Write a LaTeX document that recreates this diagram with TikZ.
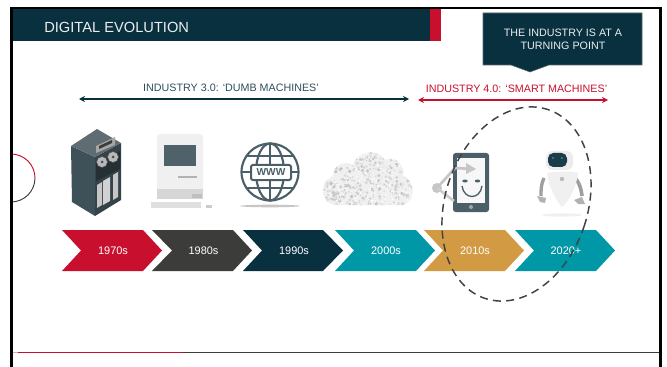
\documentclass[tikz,border=0pt]{standalone}
\usepackage{fontspec}
\setmainfont{Liberation Sans}
\usetikzlibrary{shapes.geometric,arrows.meta}
\definecolor{navy}{HTML}{08303F}
\definecolor{crim}{HTML}{C8102E}
\definecolor{coal}{HTML}{3C3C3A}
\definecolor{teal}{HTML}{0097A7}
\definecolor{gold}{HTML}{D29A42}
\definecolor{slate}{HTML}{4A5F68}
\tikzset{
  chev/.style={draw=none,fill=#1},
  lab/.style={text=white,font=\fontsize{8.2}{10}\selectfont,inner sep=0pt},
  span/.style={font=\fontsize{8.05}{10}\selectfont,inner sep=0pt},
  spanline/.style={line width=0.8pt,{Stealth[length=4.5pt,width=4.5pt]}-{Stealth[length=4.5pt,width=4.5pt]}}
}
\newcommand{\chevron}[7]{% name, left, notch, topright, tip, colour, label
  \fill[chev=#6] (#2,230) -- (#4,230) -- (#5,250.5) -- (#4,271) -- (#2,271) -- (#3,250.5) -- cycle;
  \node[lab] (#1) at ({(#3+#5)/2-8.5},250.5) {#7};
}
\begin{document}
\begin{tikzpicture}[x=0.75pt,y=-0.75pt]
\useasboundingbox (0,0) rectangle (667,367);
\fill[white] (0,0) rectangle (667,367);
% side circle
\draw[crim,line width=0.7pt] (11,154) arc (-90:0:24);
\draw[coal,line width=0.7pt] (35,178) arc (0:90:24);
% header
\fill[navy] (12,9) rectangle (430,41);
\fill[crim] (430,9) rectangle (441,41);
\node[text=white!92!navy,font=\fontsize{11}{13}\selectfont,anchor=west,inner sep=0pt] (title) at (44,27) {DIGITAL EVOLUTION};
% callout
\draw[fill=navy,draw=gray!70!navy,line width=0.4pt] (483,13) -- (642,13) -- (642,65) -- (549,65) -- (530,72) -- (511,65) -- (483,65) -- cycle;
\node[text=white!92!navy,font=\fontsize{8.05}{9.8}\selectfont,align=center,inner sep=0pt] (call) at (563,39) {THE INDUSTRY IS AT A\\TURNING POINT};
% spans
\coordinate (a1) at (79,99); \coordinate (a2) at (409,99);
\coordinate (b1) at (418,100); \coordinate (b2) at (608,100);
\draw[spanline,navy] (a1) -- (a2);
\draw[spanline,crim] (b1) -- (b2);
\node[span,text=navy!85!white] (t3) at (231,88) {INDUSTRY 3.0: ‘DUMB MACHINES’};
\node[span,text=crim] (t4) at (516.5,89) {INDUSTRY 4.0: ‘SMART MACHINES’};
% server
\fill[slate!85!black] (71,146) -- (95,157) -- (95,216) -- (72,202) -- cycle;
\fill[slate!70!black] (95,157) -- (121,143) -- (121,200) -- (95,216) -- cycle;
\fill[slate!60!gray] (71,146) -- (97,129) -- (121,143) -- (95,157) -- cycle;
\fill[gray!70] (96,146) -- (115,137) -- (115,145) -- (96,153) -- cycle;
\fill[coal] (99,146) -- (112,140) -- (112,143) -- (99,149) -- cycle;
\fill[slate!50!black] (96,164) -- (120,151) -- (120,169) -- (96,181) -- cycle;
\fill[gray!55,draw=black!70,line width=0.4pt] (102,162) circle (5.5);
\fill[gray!55,draw=black!70,line width=0.4pt] (113,157) circle (5.5);
\fill[black!70] (102,162) circle (1.5) (113,157) circle (1.5);
\fill[gray!45] (97,185) -- (102,182) -- (102,205) -- (97,208) -- cycle;
\fill[gray!35] (103,181) -- (110,177) -- (110,201) -- (103,205) -- cycle;
\fill[gray!45] (113,175) -- (118,172) -- (118,197) -- (113,200) -- cycle;
% mac
\fill[gray!12,rounded corners=2.5pt] (157,134) rectangle (203,199);
\fill[gray!32] (157,189) rectangle (203,199);
\fill[gray!50] (192,194) rectangle (202,198);
\fill[slate!90!gray] (164,145) rectangle (196,166);
\fill[gray!60] (178,176) rectangle (197,178);
\fill[gray!25] (151,202) rectangle (201,208);
\fill[gray!40] (206,205) rectangle (212,208);
% globe
\fill[gray!45] (270,206) ellipse (30 and 1.3);
\begin{scope}[slate,line width=1.6pt]
\draw (270,172) circle (28.5);
\draw (270,172) ellipse (14 and 28.5);
\draw (270,143.5) -- (270,200.5);
\draw (247,156) -- (293,156);
\draw (247,188) -- (293,188);
\draw (241.5,172) -- (298.5,172);
\end{scope}
\draw[slate,fill=white,line width=1.5pt,rounded corners=1.5pt] (251,165) rectangle (291,180);
\node[text=slate,font=\bfseries\fontsize{7.6}{9}\selectfont,inner sep=0pt] (www) at (271,172.5) {WWW};
% cloud
\begin{scope}
\clip (336,205) .. controls (322,205) and (316,184) .. (333,176) .. controls (332,165) and (346,160) .. (353,165) .. controls (358,150) and (378,148) .. (385,160) .. controls (395,155) and (405,165) .. (403,176) .. controls (415,180) and (417,200) .. (403,205) -- cycle;
\fill[gray!12] (320,148) rectangle (416,207);
\pgfmathsetseed{7}
\foreach \i in {1,...,420}{
  \pgfmathsetmacro{\px}{322+92*rnd}
  \pgfmathsetmacro{\py}{150+56*rnd}
  \pgfmathsetmacro{\pr}{0.6+1.3*rnd}
  \pgfmathtruncatemacro{\ps}{18+32*rnd}
  \fill[gray!\ps] (\px,\py) circle (\pr);
}
\foreach \i in {1,...,160}{
  \pgfmathsetmacro{\px}{322+92*rnd}
  \pgfmathsetmacro{\py}{150+56*rnd}
  \fill[white] (\px,\py) circle (0.8);
}
\end{scope}
% phone
\fill[slate,rounded corners=2pt] (453,153) rectangle (489,212);
\fill[white!94!gray] (457,158) rectangle (485,203);
\draw[gray!45!white,line width=2pt] (437,188) -- (455,168) -- (472,169);
\fill[gray!45!white] (437,188) circle (5);
\fill[gray!45!white] (466,163) -- (476,169) -- (466,174) -- cycle;
\draw[gray!40!white,line width=2pt] (437,188) -- (454,201);
\fill[slate] (465,181) ellipse (2.7 and 1.5) (477.5,181) ellipse (2.7 and 1.5);
\draw[slate,line width=1pt] (462,186) .. controls (464,200) and (480,200) .. (482,186);
\fill[gray!70] (471,207) circle (2);
% robot
\fill[gray!12] (562,215) ellipse (20 and 1.6);
\fill[gray!15,rounded corners=5pt] (546,151) rectangle (573,170);
\fill[navy!85!gray,rounded corners=4pt] (548,153) rectangle (567,167);
\fill[white] (553,158) circle (0.6) (562,158) circle (0.6);
\draw[gray!75,line width=2.5pt] (544,178) .. controls (541,184) and (541,190) .. (541,196);
\draw[gray!75,line width=2.7pt] (572,176) .. controls (578,179) and (581,187) .. (582,196);
\fill[gray!12] (547,173) .. controls (556,171) and (570,171) .. (578,173) .. controls (576,188) and (570,200) .. (562,207) .. controls (556,200) and (549,188) .. (547,173) -- cycle;
\fill[gray!55] (562,179) circle (2.2);
\fill[gray!60] (537,196) -- (546,198) -- (545,203) -- (540,202) -- cycle;
\fill[gray!60] (574,200) -- (582,197) -- (585,204) -- (578,204) -- cycle;
% chevrons
\chevron{c1}{62}{81}{143}{162}{crim}{1970s}
\chevron{c2}{152}{172}{233}{252}{coal}{1980s}
\chevron{c3}{243}{262}{323}{343}{navy}{1990s}
\chevron{c4}{335}{354}{416}{435}{teal}{2000s}
\chevron{c5}{424}{443}{505}{524}{gold}{2010s}
\chevron{c6}{515}{534}{596}{615}{teal}{2020+}
% dashed ellipse
\node[ellipse,draw=coal!80!slate,line width=1.1pt,dash pattern=on 6pt off 4pt,minimum width=106.8pt,minimum height=149.3pt,inner sep=0pt,rotate=-18.5] (ring) at (516.5,204) {};
% footer
\coordinate (f0) at (11,352.5); \coordinate (f1) at (18,352.5); \coordinate (f2) at (183,352.5); \coordinate (f3) at (662,352.5);
\draw[coal,line width=0.6pt] (f2) -- (f3);
\draw[crim,line width=0.6pt] (f1) -- (f2);
\draw[crim!40,line width=0.6pt] (f0) -- (f1);
% frame
\draw[black,line width=1.7pt] (11.5,367) -- (11.5,8) -- (660.5,8) -- (660.5,367);
\end{tikzpicture}
\end{document}
